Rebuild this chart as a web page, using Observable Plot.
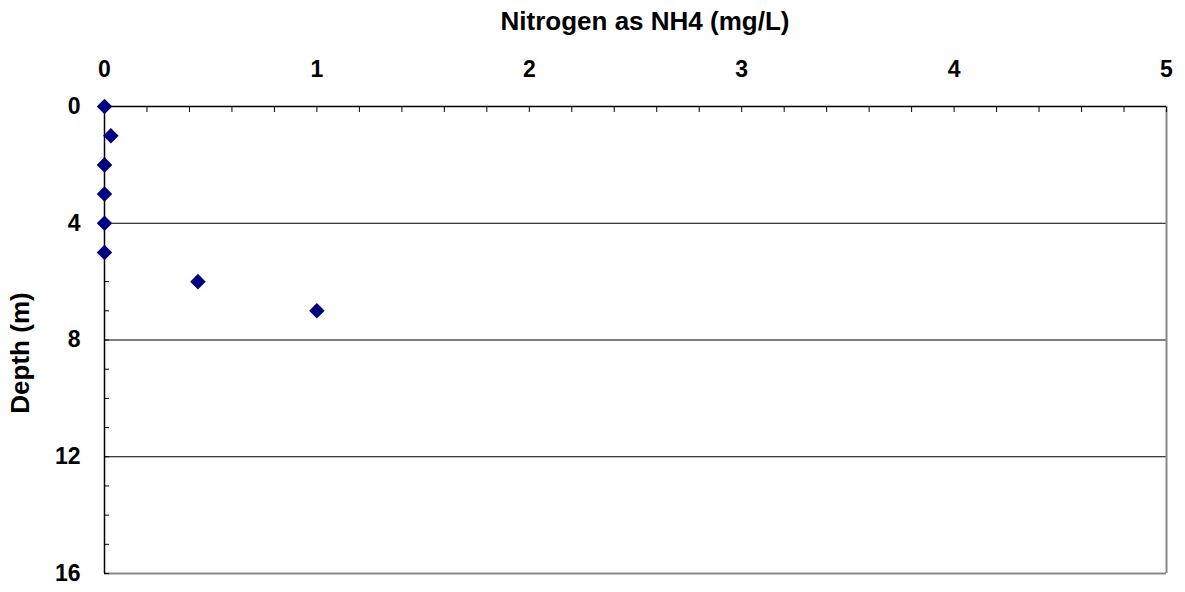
<!DOCTYPE html>
<html>
<head>
<meta charset="utf-8">
<script src="https://cdn.jsdelivr.net/npm/d3@7"></script>
<script src="https://cdn.jsdelivr.net/npm/@observablehq/plot@0.6"></script>
<style>
  html, body { margin: 0; padding: 0; background: #fff; }
  #chart { position: relative; width: 1185px; height: 592px; }
  #title { position: absolute; left: 0; width: 1290px; top: 5px; text-align: center; z-index: 2;
           font: bold 26px "Liberation Sans", Arial, sans-serif; color: #000; line-height: 32px; }
  #ylabel { position: absolute; left: 20px; top: 353px; transform: translate(-50%, -50%) rotate(-90deg); z-index: 2;
            font: bold 26px "Liberation Sans", Arial, sans-serif; white-space: nowrap; line-height: 30px; }
  svg { position: absolute; left: 0; top: 0; z-index: 1; }
</style>
</head>
<body>
<div id="chart">
  <div id="title">Nitrogen as NH4 (mg/L)</div>
  <div id="ylabel">Depth (m)</div>
</div>
<script>
const nitrogen = [0, 0.03, 0, 0, 0, 0, 0.44, 1.0];
const depth = [0, 1, 2, 3, 4, 5, 6, 7];
const xTickLabels = [0, 1, 2, 3, 4, 5];
const yTickLabels = [0, 4, 8, 12, 16];
const xMinorTicks = d3.range(0, 26).map(i => i / 5);
const yMinorTicks = d3.range(0, 17);
const gridDepths = [4, 8, 12];

const data = nitrogen.map((v, i) => ({nitrogen: v, depth: depth[i]}));

const plot = Plot.plot({
  width: 1185,
  height: 592,
  marginLeft: 104,
  marginRight: 19,
  marginTop: 106,
  marginBottom: 19,
  x: {domain: [0, 5]},
  y: {domain: [0, 16], reverse: true},
  style: {fontFamily: "'Liberation Sans', Arial, sans-serif", fontSize: "23px", fontWeight: "bold", color: "#000", background: "transparent"},
  marks: [
    Plot.ruleY(gridDepths, {stroke: "#000", strokeWidth: 1}),
    Plot.ruleX([5], {stroke: "#888", strokeWidth: 2}),
    Plot.ruleY([16], {stroke: "#888", strokeWidth: 2}),
    Plot.ruleX([0], {stroke: "#000", strokeWidth: 1.5}),
    Plot.ruleY([0], {stroke: "#000", strokeWidth: 1.5}),
    Plot.axisX({anchor: "top", ticks: xMinorTicks, tickSize: -5, tickFormat: () => "", label: null, stroke: "#000"}),
    Plot.axisY({anchor: "left", ticks: yMinorTicks, tickSize: -5, tickFormat: () => "", label: null, stroke: "#000"}),
    Plot.axisX({anchor: "top", ticks: xTickLabels, tickSize: 0, tickPadding: 30, tickFormat: d => String(d), label: null, fill: "#000", fontSize: 23, fontWeight: "bold"}),
    Plot.axisY({anchor: "left", ticks: yTickLabels, tickSize: 0, tickPadding: 24, tickFormat: d => String(d), label: null, fill: "#000", fontSize: 23, fontWeight: "bold"}),
    Plot.dot(data, {x: "nitrogen", y: "depth", symbol: "diamond2", r: 7, fill: "#000080", stroke: "none"})
  ]
});
document.getElementById("chart").appendChild(plot);
</script>
</body>
</html>
